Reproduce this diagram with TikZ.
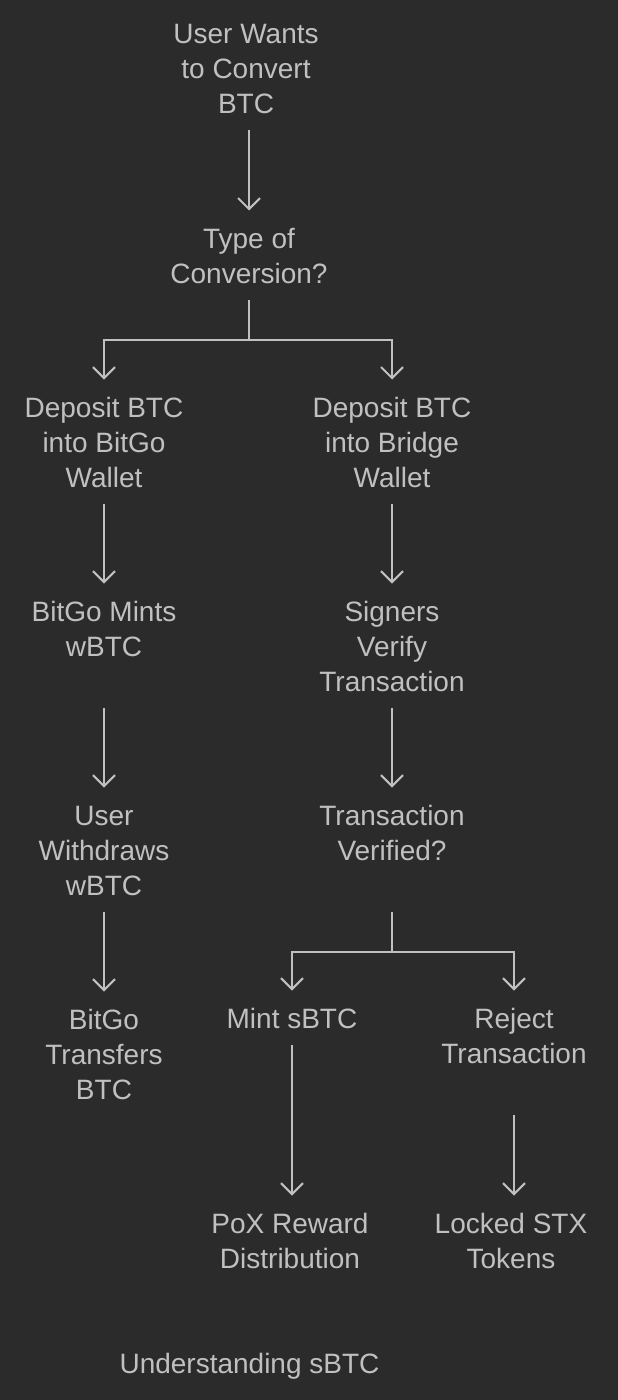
\documentclass[tikz,border=0pt]{standalone}
\usepackage{fontspec}
\setmainfont{Liberation Sans}
\usetikzlibrary{arrows.meta}
\definecolor{bg}{HTML}{2B2B2B}
\definecolor{fg}{HTML}{C0C0C0}
\newcommand\mystrut{\rule{0pt}{21pt}}
\tikzset{
  lbl/.style={align=center, inner xsep=0pt, inner ysep=16.5pt, anchor=north,
              text=fg, font=\fontsize{28}{35}\selectfont},
  conn/.style={draw=fg, line width=2pt},
  arr/.style={conn, -{Straight Barb[length=11pt,width=22pt,line width=2pt]}}
}
\begin{document}
\begin{tikzpicture}[x=1pt,y=-1pt]
\fill[bg] (0,0) rectangle (618,1400);
\useasboundingbox (0,0) rectangle (618,1400);

\node[lbl] (n1) at (246,5.5) {\mystrut User Wants\\to Convert\\BTC};
\node[lbl] (n2) at (249,210.5) {\mystrut Type of\\Conversion?};

\node[lbl] (l1) at (104,379.5) {\mystrut Deposit BTC\\into BitGo\\Wallet};
\node[lbl] (l2) at (104,583.5) {\mystrut BitGo Mints\\wBTC\\\mbox{}};
\node[lbl] (l3) at (104,787.5) {\mystrut User\\Withdraws\\wBTC};
\node[lbl] (l4) at (104,991.5) {\mystrut BitGo\\Transfers\\BTC};

\node[lbl] (r1) at (392,379.5) {\mystrut Deposit BTC\\into Bridge\\Wallet};
\node[lbl] (r2) at (392,583.5) {\mystrut Signers\\Verify\\Transaction};
\node[lbl] (r3) at (392,787.5) {\mystrut Transaction\\Verified?\\\mbox{}};

\node[lbl] (m)  at (292,990.5) {\mystrut Mint sBTC};
\node[lbl] (rj) at (514,990.5) {\mystrut Reject\\Transaction\\\mbox{}};
\node[lbl] (p)  at (290,1195.5) {\mystrut PoX Reward\\Distribution};
\node[lbl] (lk) at (511,1195.5) {\mystrut Locked STX\\Tokens};

\node[lbl] (title) at (249.5,1335.5) {\mystrut Understanding sBTC};

\draw[arr] (n2.north |- n1.south) -- (n2.north);
\draw[arr] (n2.south) -- ++(0,40) -| (l1.north);
\draw[arr] (n2.south) -- ++(0,40) -| (r1.north);

\draw[arr] (l1.south) -- (l2.north);
\draw[arr] (l2.south) -- (l3.north);
\draw[arr] (l3.south) -- (l4.north);

\draw[arr] (r1.south) -- (r2.north);
\draw[arr] (r2.south) -- (r3.north);
\draw[arr] (r3.south) -- ++(0,40) -| (m.north);
\draw[arr] (r3.south) -- ++(0,40) -| (rj.north);

\draw[arr] (m.south) -- (m.south |- p.north);
\draw[arr] (rj.south) -- (rj.south |- lk.north);
\end{tikzpicture}
\end{document}
